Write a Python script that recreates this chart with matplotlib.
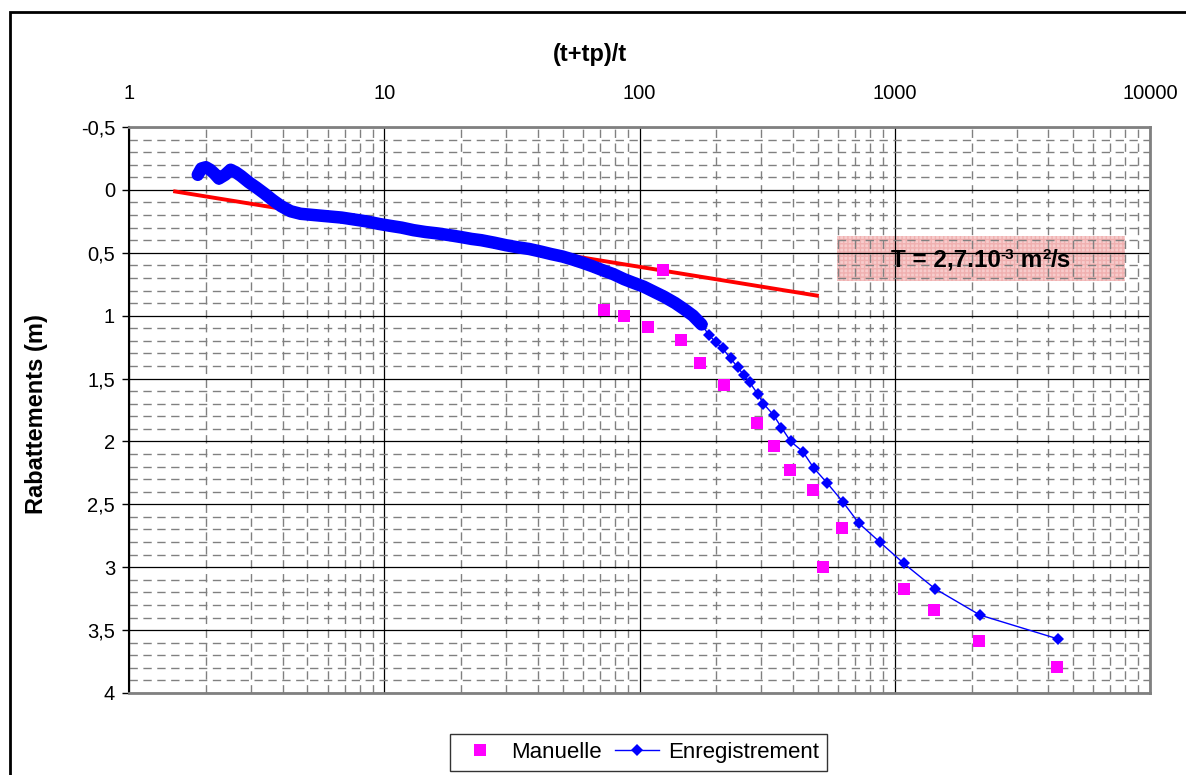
import matplotlib
matplotlib.use("Agg")
import matplotlib.pyplot as plt
import numpy as np
from matplotlib.patches import Rectangle
from matplotlib.ticker import FixedLocator, NullFormatter

plt.rcParams['font.family'] = ['Liberation Sans', 'DejaVu Sans']
plt.rcParams['mathtext.default'] = 'regular'

# ---------------- data ----------------
# Manuelle (manual readings)
man_x = [124, 72.9, 86.6, 107.5, 144.8, 171.9, 213.5, 287.6, 335, 387, 477, 620, 522, 1085, 1422, 2135, 4318]
man_y = [0.636, 0.954, 1.0, 1.089, 1.19, 1.375, 1.55, 1.852, 2.035, 2.23, 2.39, 2.69, 2.997, 3.17, 3.34, 3.59, 3.79]

# Enregistrement (logger) - dense early part
enr_dense_x = [1.86, 1.92, 2.00, 2.08, 2.16, 2.25, 2.38, 2.50, 2.62, 2.75, 2.95, 3.15, 3.40, 3.65,
               3.95, 4.30, 4.70, 5.30, 6.00, 6.80, 7.60, 8.50, 9.50, 10.5, 11.7, 13.0, 14.5, 16.0,
               18.0, 20.0, 22.0, 24.0, 27.0, 30.0, 33.0, 37.0, 41.0, 45.0, 50.0, 55.0, 60.0, 66.0,
               72.0, 79.0, 87.0, 95.0, 104, 114, 125, 138, 150, 162, 175]
enr_dense_y = [-0.12, -0.17, -0.18, -0.16, -0.13, -0.09, -0.12, -0.16, -0.14, -0.11, -0.06, -0.02, 0.03, 0.08,
               0.13, 0.17, 0.19, 0.20, 0.21, 0.22, 0.235, 0.25, 0.27, 0.285, 0.30, 0.32, 0.335, 0.345,
               0.36, 0.375, 0.39, 0.40, 0.42, 0.44, 0.455, 0.47, 0.49, 0.51, 0.53, 0.555, 0.58, 0.61,
               0.64, 0.67, 0.71, 0.74, 0.77, 0.81, 0.85, 0.90, 0.95, 1.00, 1.07]
# Enregistrement - later sparse part
enr_sparse_x = [186.5, 198.6, 211.5, 227.4, 242.3, 255.6, 270, 290, 306, 335, 360, 391, 436, 481,
                543, 626, 723, 874, 1085, 1435, 2155, 4357]
enr_sparse_y = [1.15, 1.21, 1.26, 1.34, 1.41, 1.47, 1.53, 1.62, 1.70, 1.79, 1.89, 2.0, 2.08, 2.21,
                2.33, 2.48, 2.65, 2.80, 2.97, 3.17, 3.38, 3.57]

# Fitted straight line (Theis recovery)
fit_x = [1.49, 504]
fit_y = [0.01, 0.843]

x_ticks = [1, 10, 100, 1000, 10000]
x_labels = ['1', '10', '100', '1000', '10000']
y_ticks = [-0.5, 0, 0.5, 1, 1.5, 2, 2.5, 3, 3.5, 4]
y_labels = ['-0,5', '0', '0,5', '1', '1,5', '2', '2,5', '3', '3,5', '4']

title = '(t+tp)/t'
ylabel = 'Rabattements (m)'
annot_parts = ['T = 2,7.10', '-3', ' m', '2', '/s']

# ---------------- figure ----------------
W, H = 1186, 775
fig = plt.figure(figsize=(W / 100, H / 100), dpi=100)
fig.patch.set_facecolor('white')

def fx(px):
    return px / W

def fy(py):
    return 1 - py / H

ax = fig.add_axes([fx(129), fy(693), fx(1150) - fx(129), fy(127) - fy(693)])
ax.set_xscale('log')
ax.set_xlim(1, 10000)
ax.set_ylim(4, -0.5)

# grid
minor_x = [m * 10 ** d for d in range(4) for m in range(2, 10)]
minor_y = [v / 10 for v in range(-5, 41) if v % 5 != 0]
ax.xaxis.set_minor_locator(FixedLocator(minor_x))
ax.xaxis.set_minor_formatter(NullFormatter())
ax.yaxis.set_minor_locator(FixedLocator(minor_y))
ax.grid(which='minor', color='#808080', linestyle=(0, (6, 4)), linewidth=1.0, zorder=0)
ax.grid(which='major', color='black', linestyle='-', linewidth=0.9, zorder=0)

ax.set_xticks(x_ticks)
ax.set_xticklabels(x_labels)
ax.set_yticks(y_ticks)
ax.set_yticklabels(y_labels)

ax.xaxis.tick_top()
ax.tick_params(axis='x', which='both', length=0, labelsize=14.5, pad=17)
ax.tick_params(axis='y', which='major', length=5, width=1, labelsize=14.5, pad=5, color='black')
ax.tick_params(axis='y', which='minor', length=0)

for s in ['top', 'right', 'bottom']:
    ax.spines[s].set_color('#808080')
    ax.spines[s].set_linewidth(2)
ax.spines['left'].set_color('black')
ax.spines['left'].set_linewidth(1.5)

# data
ax.plot(fit_x, fit_y, color='#ff0000', linewidth=2.8, zorder=3, solid_capstyle='butt')
ax.plot(enr_dense_x, enr_dense_y, color='#0000ff', linewidth=9, zorder=4,
        solid_capstyle='round', solid_joinstyle='round')
enr_x = enr_dense_x + enr_sparse_x
enr_y = enr_dense_y + enr_sparse_y
ax.plot(enr_x, enr_y, color='#0000ff', linewidth=1, marker='D', markersize=6.5,
        markeredgewidth=0, zorder=5, label='Enregistrement')
ax.plot(man_x, man_y, linestyle='none', marker='s', markersize=8, color='#ff00ff',
        markeredgewidth=0, zorder=6, label='Manuelle')

# labels
fig.text(fx(590), fy(55), title, ha='center', va='center', fontsize=17, fontweight='bold')
ax.set_ylabel(ylabel, fontsize=17, fontweight='bold')
ax.yaxis.set_label_coords((48 - 129) / (1150 - 129), 0.493)

# annotation box
box = Rectangle((fx(837), fy(281)), fx(1125) - fx(837), fy(236) - fy(281),
                transform=fig.transFigure, facecolor='#f7cccc', edgecolor='#f0b0b0',
                hatch='++++', linewidth=0, zorder=1)
ax.add_artist(box)
box.set_transform(fig.transFigure)
box.set_clip_on(False)

# annotation text built from pieces (superscripts raised and smaller)
renderer = fig.canvas.get_renderer()
sizes = [17.5, 11, 17.5, 11, 17.5]
raises = [0, 8, 0, 8, 0]
pieces = []
for txt, sz in zip(annot_parts, sizes):
    t = fig.text(0, 0, txt, fontsize=sz, fontweight='bold', ha='left', va='baseline', zorder=10)
    pieces.append(t)
widths = [p.get_window_extent(renderer).width for p in pieces]
total = sum(widths)
x0 = 981 - total / 2
base = 267
for p, w, r in zip(pieces, widths, raises):
    p.set_position((fx(x0), fy(base - r)))
    x0 += w

# legend
handles, labels = ax.get_legend_handles_labels()
order = [1, 0]
leg = fig.legend([handles[i] for i in order], [labels[i] for i in order],
                 loc='upper center', bbox_to_anchor=(fx(638.5), fy(734)), ncol=2,
                 fontsize=16, frameon=True, fancybox=False, edgecolor='black',
                 handlelength=2.0, handletextpad=0.4, columnspacing=0.6,
                 borderpad=0.35, borderaxespad=0)
leg.get_frame().set_linewidth(1.0)

# outer chart frame
frame = Rectangle((fx(10), -0.1), 1.2, fy(12) + 0.1, transform=fig.transFigure,
                  fill=False, edgecolor='black', linewidth=2, clip_on=False)
fig.patches.append(frame)

fig.savefig('out.png', dpi=100)
